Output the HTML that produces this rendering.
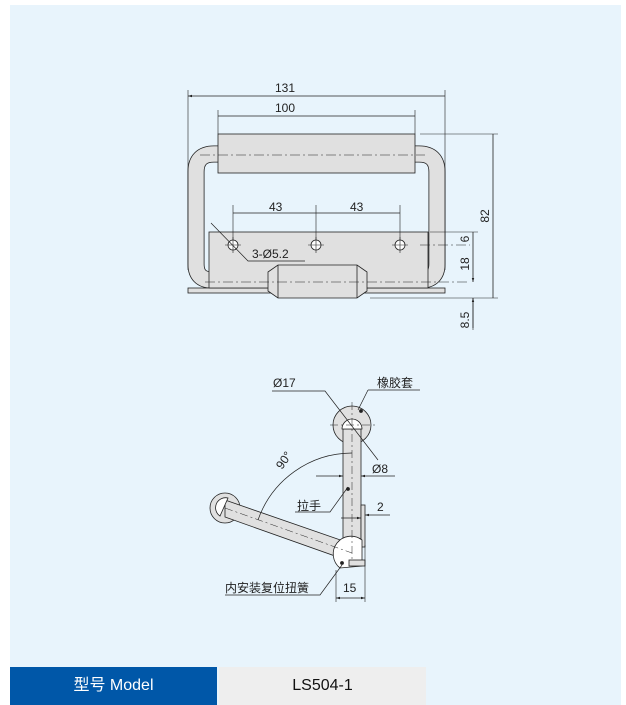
<!DOCTYPE html>
<html><head><meta charset="utf-8"><style>
body{margin:0;width:626px;height:705px;background:#fff;position:relative;overflow:hidden;font-family:"Liberation Sans","Noto Sans CJK SC",sans-serif}
#p{position:absolute;left:10px;top:5px;width:611px;height:700px;background:#e8f4fc}
.c{position:absolute;top:667px;height:38px;line-height:38px;text-align:center;font-size:16px}
</style></head><body>
<div id="p"></div>
<svg style="position:absolute;left:0;top:0" width="626" height="705" font-family="Liberation Sans, Noto Sans CJK SC, sans-serif" font-size="12" fill="none" stroke="#222" stroke-width="0.8">
<defs><marker id="a" viewBox="0 0 10 10" refX="10" refY="5" markerWidth="7" markerHeight="5" orient="auto-start-reverse"><path d="M0,2L10,5L0,8z" fill="#222" stroke="none"/></marker></defs>
<!-- top view -->
<path d="M212,280 Q196,280 196,264 V172 Q196,154 214,154 H419 Q437,154 437,172 V264 Q437,280 421,280" stroke="#222" stroke-width="17"/>
<path d="M212,280 Q196,280 196,264 V172 Q196,154 214,154 H419 Q437,154 437,172 V264 Q437,280 421,280" stroke="#e0e0e0" stroke-width="15.4"/>
<rect x="188" y="288" width="257" height="5" fill="#e0e0e0"/>
<rect x="209" y="232" width="219" height="56" fill="#e0e0e0"/>
<rect x="218" y="134" width="197" height="39" fill="#e0e0e0"/>
<path d="M278,265 L357,265 L367,272 L367,291 L357,298 L278,298 L268,291 L268,272 Z" fill="#e0e0e0"/>
<path d="M278,265V298M357,265V298"/>
<g stroke-dasharray="10,3,2,3" stroke-width="0.6"><path d="M200,155H425M205,282H470"/><path d="M420,245H470"/></g>
<g fill="#fff"><circle cx="233" cy="245" r="5"/><circle cx="316" cy="245" r="5"/><circle cx="400" cy="245" r="5"/></g>
<path d="M225,245h16M233,237v16M308,245h16M316,237v16M392,245h16M400,237v16" stroke-width="0.6"/>
<path d="M188,90V270M445,90V270M218,110V134M415,110V134M233,205V240M316,205V240M400,205V240M420,134H498M430,232H478M370,298H498M473,298V330" stroke-width="0.6"/>
<g marker-start="url(#a)" marker-end="url(#a)"><path d="M188,96H445M218,116H415M233,213H316M316,213H400M493,134V298M473,232V245M473,245V282"/></g>
<path d="M473,328V298" marker-end="url(#a)"/>
<path d="M211,223L248,261H305" stroke-width="0.7"/>
<g fill="#222" stroke="none">
<text x="275" y="92">131</text><text x="275" y="112">100</text>
<text x="269" y="211">43</text><text x="350" y="211">43</text>
<text x="252" y="258">3-Ø5.2</text>
<text transform="translate(489,216) rotate(-90)" text-anchor="middle">82</text>
<text transform="translate(469,239) rotate(-90)" text-anchor="middle">6</text>
<text transform="translate(469,264) rotate(-90)" text-anchor="middle">18</text>
<text transform="translate(469,320) rotate(-90)" text-anchor="middle">8.5</text>
</g>
<!-- side view -->
<circle cx="352" cy="425" r="19" fill="#e0e0e0"/>
<circle cx="225" cy="508" r="15" fill="#e0e0e0"/>
<path d="M225,500 L352,544 L352,562 L225,517 Z" fill="#e0e0e0"/>
<path d="M220,516 A10,10 0 0 1 228,498 Z" fill="#fff"/>
<rect x="343" y="429" width="18" height="135" fill="#e0e0e0"/>
<path d="M342,429 A10,10 0 0 1 362,429 Z" fill="#fff"/>
<rect x="361" y="505" width="4" height="42" fill="#e0e0e0"/>
<path d="M340,568 A12,12 0 0 1 362,540 L362,566 Z" fill="#fff"/>
<rect x="349" y="560" width="16" height="6" fill="#e0e0e0"/>
<g stroke-dasharray="8,3,2,3" stroke-width="0.5"><path d="M352,402V560M330,425H375M225,508L352,553"/></g>
<path d="M258,520 A100,100 0 0 1 352,453" stroke-width="0.7"/>
<path d="M272,391H325L378,460" stroke-width="0.7"/>
<path d="M368,390H420M368,390L358,410" stroke-width="0.7"/>
<path d="M316,476H343" marker-end="url(#a)"/><path d="M395,476H361" marker-end="url(#a)"/>
<path d="M341,518H361" marker-end="url(#a)"/><path d="M390,515H365" marker-end="url(#a)"/>
<path d="M295,512H330L348,487" stroke-width="0.7"/>
<path d="M225,595H320L342,565" stroke-width="0.7"/>
<path d="M336,570V602M365,545V602" stroke-width="0.6"/>
<path d="M336,598H365" marker-start="url(#a)" marker-end="url(#a)"/>
<circle cx="361" cy="411" r="1.5" fill="#222"/><circle cx="348" cy="489" r="1.5" fill="#222"/><circle cx="342" cy="563" r="1.5" fill="#222"/>
<g fill="#222" stroke="none">
<text x="273" y="387">Ø17</text><text x="377" y="387">橡胶套</text>
<text x="372" y="473">Ø8</text><text x="297" y="510">拉手</text>
<text x="377" y="511">2</text><text x="343" y="592">15</text>
<text x="225" y="592">内安装复位扭簧</text>
<text transform="translate(282,470) rotate(-55)">90°</text>
</g>
</svg>
<div class="c" style="left:10px;width:207px;background:#0057a8;color:#fff">型号 Model</div>
<div class="c" style="left:219px;width:207px;background:#eeeeee;color:#111">LS504-1</div>
</body></html>
